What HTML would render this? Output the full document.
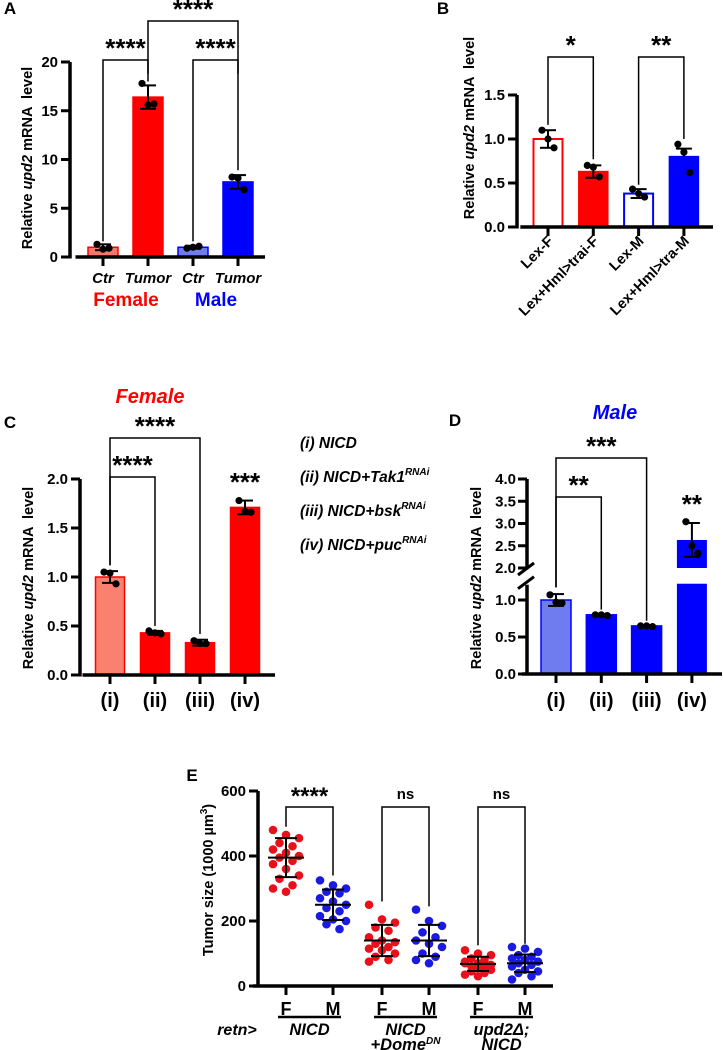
<!DOCTYPE html>
<html><head><meta charset="utf-8"><style>
html,body{margin:0;padding:0;background:#fff;}
svg{display:block;font-family:"Liberation Sans",Arial,sans-serif;font-weight:bold;}
</style></head><body>
<svg id="fig" width="723" height="1050" viewBox="0 0 723 1050" xmlns="http://www.w3.org/2000/svg"></svg>
<script>
// ---- Panel A data ----
const aCats = ["Ctr","Tumor","Ctr","Tumor"];
const aMeans = [1.0, 16.4, 1.0, 7.7];
const aErr = [0.3, 1.2, 0.15, 0.7];
const aPts = [[1.3,0.8,0.9],[17.8,15.6,15.7],[0.9,1.0,1.1],[8.2,8.1,6.9]];
const aTicks = [0,5,10,15,20];
// ---- Panel B data ----
const bCats = ["Lex-F","Lex+Hml>trai-F","Lex-M","Lex+Hml>tra-M"];
const bMeans = [1.0, 0.63, 0.38, 0.80];
const bErr = [0.1, 0.07, 0.05, 0.09];
const bPts = [[1.1,1.0,0.9],[0.7,0.68,0.57],[0.43,0.38,0.34],[0.94,0.85,0.62]];
const bTicks = [0,0.5,1.0,1.5];
// ---- Panel C data ----
const cCats = ["(i)","(ii)","(iii)","(iv)"];
const cMeans = [1.0, 0.43, 0.33, 1.71];
const cErr = [0.06, 0.02, 0.03, 0.07];
const cPts = [[1.05,1.04,0.93],[0.45,0.43,0.42],[0.35,0.32,0.32],[1.78,1.67,1.66]];
const cTicks = [0,0.5,1.0,1.5,2.0];
// ---- Panel D data ----
const dCats = ["(i)","(ii)","(iii)","(iv)"];
const dMeans = [1.0, 0.8, 0.65, 2.63];
const dErr = [0.08, 0.01, 0.01, 0.38];
const dPts = [[1.07,0.97,0.96],[0.8,0.8,0.79],[0.65,0.65,0.64],[3.04,2.5,2.33]];
const dTicksLow = [0,0.5,1.0];
const dTicksHigh = [2.0,2.5,3.0,3.5,4.0];
// ---- Panel E data ----
const eGroups = ["F","M","F","M","F","M"];
const eMeans = [395,250,140,140,68,70];
const eSD = [60,47,48,48,22,27];
const eVals = [
 [480,465,455,440,430,420,410,400,395,385,375,360,340,330,310,300,290],
 [325,310,300,290,285,270,260,250,240,230,215,205,200,190,175],
 [250,205,195,180,170,150,140,135,130,120,115,110,100,90,80,75],
 [235,200,185,165,150,140,130,120,100,90,80,70],
 [110,100,95,85,80,75,70,65,60,60,70,55,50,45,40,35,30],
 [120,115,105,95,90,85,80,75,70,65,60,50,45,40,30,20]
];
const eTicks = [0,200,400,600];

const NS="http://www.w3.org/2000/svg";
const svg=document.getElementById('fig');
function mk(tag,attrs,parent){const e=document.createElementNS(NS,tag);for(const k in attrs)e.setAttribute(k,attrs[k]);(parent||svg).appendChild(e);return e;}
function txt(s,x,y,size,anchor,fill,parent,extra){const t=mk('text',Object.assign({x:x,y:y,'font-size':size,'text-anchor':anchor||'middle',fill:fill||'#000'},extra||{}),parent);t.textContent=s;return t;}
function line(x1,y1,x2,y2,w,parent){return mk('line',{x1,y1,x2,y2,stroke:'#000','stroke-width':w||1.5},parent);}
function bracket(x1,x2,yTop,y1,y2,label,parent,size,labelDy){
  const p=mk('polyline',{points:`${x1},${y1} ${x1},${yTop} ${x2},${yTop} ${x2},${y2}`,fill:'none',stroke:'#000','stroke-width':1.5},parent);
  
  
  const t=txt(label,(x1+x2)/2,yTop-(labelDy||3),size||26,'middle','#000',parent);
  
  
}
function yTitle(x,y,parent){
  const t=mk('text',{transform:`translate(${x},${y}) rotate(-90)`,'font-size':14.5,'text-anchor':'middle'},parent);
  t.innerHTML='Relative <tspan font-style="italic">upd2</tspan> mRNA &#160;level';
  
  
}
function barPanel(g,o,cats,means,err,pts,styles,ticks,fmt){
  const ys=v=>o.y0-(v-o.vmin)*o.k;
  const xs=i=>o.x0+i*o.step;
  cats.forEach((c,i)=>{
    const st=styles[i];
    const r=mk('rect',{x:xs(i)-o.bw/2,y:ys(means[i]),width:o.bw,height:o.y0-ys(means[i]),fill:st.fill,stroke:st.stroke,'stroke-width':st.sw||1.5},g);
    
    
    const eb=mk('g',{},g);
    
    
    line(xs(i),ys(means[i]-(st.upOnly?0:err[i])),xs(i),ys(means[i]+err[i]),2,eb);
    line(xs(i)-8,ys(means[i]+err[i]),xs(i)+8,ys(means[i]+err[i]),2,eb);
    if(!st.upOnly)line(xs(i)-8,ys(means[i]-err[i]),xs(i)+8,ys(means[i]-err[i]),2,eb);
    pts[i].forEach((v,j)=>{
      const c2=mk('circle',{cx:xs(i)+(j-1)*6,cy:ys(v),r:3.6,fill:'#000'},g);
      
      
    });
    line(xs(i),o.y0,xs(i),o.y0+9,3,g);
  });
  const ax=line(o.x0-o.step/2-5,o.y0,o.xEnd,o.y0,3.5,g);
  
  
  const yax=line(o.ax,o.y0+1.5,o.ax,ys(ticks[ticks.length-1]),3.5,g);
  
  
  ticks.forEach(v=>{
    line(o.ax-9,ys(v),o.ax,ys(v),3,g);
    const t=txt(fmt(v),o.ax-12,ys(v)+5,15,'end','#000',g);
    
    
  });
  return {xs,ys};
}

// Panel A
const gA=mk('g',{});  
txt('A',10,14,17,'middle','#000',gA);
const RED='#ff0000',BLUE='#0000ff';
const A=barPanel(gA,{x0:103,step:45,bw:30,y0:257,k:9.75,vmin:0,xEnd:265,ax:70},aCats,aMeans,aErr,aPts,
 [{fill:'#f4796c',stroke:RED},{fill:RED,stroke:RED},{fill:'#6e7cf0',stroke:BLUE},{fill:BLUE,stroke:BLUE}],aTicks,v=>String(v));
yTitle(32,158,gA);
aCats.forEach((c,i)=>{const t=txt(c,A.xs(i),283,15,'middle','#000',gA,{'font-style':'italic'});});
txt('Female',126,306,19,'middle',RED,gA);
txt('Male',216,306,19,'middle',BLUE,gA);
bracket(A.xs(0),A.xs(1),60,A.ys(1.6),A.ys(18),'****',gA);
bracket(A.xs(2),A.xs(3),60,A.ys(1.6),A.ys(8.9),'****',gA);
bracket(A.xs(1),A.xs(3),21,A.ys(18.8),A.ys(18.8),'****',gA);

// Panel B
const gB=mk('g',{});  
txt('B',443,14,17,'middle','#000',gB);
const B=barPanel(gB,{x0:548,step:45.3,bw:29,y0:227,k:88,vmin:0,xEnd:713,ax:517},bCats,bMeans,bErr,bPts,
 [{fill:'#fff',stroke:RED,sw:2},{fill:RED,stroke:RED},{fill:'#fff',stroke:BLUE,sw:2},{fill:BLUE,stroke:BLUE,upOnly:true}],bTicks,v=>v.toFixed(1));
yTitle(474,128,gB);
bCats.forEach((c,i)=>{const t=txt(c,0,0,14.5,'end','#000',gB,{transform:`translate(${B.xs(i)+6},${242}) rotate(-45)`});});
bracket(B.xs(0),B.xs(1),57,B.ys(1.16),B.ys(0.77),'*',gB);
bracket(B.xs(2),B.xs(3),57,B.ys(0.48),B.ys(1.0),'**',gB);

// Panel C
const gC=mk('g',{});  
txt('C',10,428,17,'middle','#000',gC);
txt('Female',150,403,20,'middle',RED,gC,{'font-style':'italic'});
const C=barPanel(gC,{x0:110,step:45,bw:29,y0:675,k:98,vmin:0,xEnd:275,ax:80},cCats,cMeans,cErr,cPts,
 [{fill:'#fa8070',stroke:RED},{fill:RED,stroke:RED},{fill:RED,stroke:RED},{fill:RED,stroke:RED}],cTicks,v=>v.toFixed(1));
yTitle(33,578,gC);
cCats.forEach((c,i)=>{const t=txt(c,C.xs(i),707,20,'middle','#000',gC);});
bracket(C.xs(0),C.xs(1),477,C.ys(1.12),C.ys(0.5),'****',gC);
bracket(C.xs(0),C.xs(2),438,C.ys(1.12),C.ys(0.42),'****',gC);
txt('***',C.xs(3),491,26,'middle','#000',gC);
const leg=mk('g',{'font-style':'italic'},gC);  
const legItems=[['(i) NICD',''],['(ii) NICD+Tak1','RNAi'],['(iii) NICD+bsk','RNAi'],['(iv) NICD+puc','RNAi']];
legItems.forEach((it,i)=>{
  const t=mk('text',{x:300,y:448+i*34,'font-size':15.5},leg);
  t.innerHTML=it[0]+(it[1]?`<tspan font-size="10" dy="-7">${it[1]}</tspan>`:'');
  
  
});

// Panel D (broken axis)
const gD=mk('g',{});  
txt('D',455,426,17,'middle','#000',gD);
txt('Male',615,419,20,'middle',BLUE,gD,{'font-style':'italic'});
const dY0=674,dKlo=74,dBreakLo=1.22,dHiBase=568,dKhi=44.5;
const dys=v=>v<=dBreakLo+0.3?dY0-v*dKlo:dHiBase-(v-2)*dKhi;
const dxs=i=>556+i*45.3;
const dAx=527;
const dStyles=[{fill:'#6e7cf0',stroke:BLUE},{fill:BLUE,stroke:BLUE},{fill:BLUE,stroke:BLUE},{fill:BLUE,stroke:BLUE}];
dCats.forEach((c,i)=>{
  let r;
  if(dMeans[i]>dBreakLo){
    r=mk('rect',{x:dxs(i)-15,y:dys(dBreakLo),width:30,height:dY0-dys(dBreakLo),fill:BLUE},gD);
    const r2=mk('rect',{x:dxs(i)-15,y:dys(dMeans[i]),width:30,height:dHiBase-dys(dMeans[i]),fill:BLUE},gD);
    
    
  } else {
    r=mk('rect',{x:dxs(i)-15,y:dys(dMeans[i]),width:30,height:dY0-dys(dMeans[i]),fill:dStyles[i].fill,stroke:dStyles[i].stroke,'stroke-width':1.5},gD);
  }
  
  
  const eb=mk('g',{},gD);
  
  
  line(dxs(i),dys(dMeans[i]-dErr[i]),dxs(i),dys(dMeans[i]+dErr[i]),2,eb);
  line(dxs(i)-8,dys(dMeans[i]+dErr[i]),dxs(i)+8,dys(dMeans[i]+dErr[i]),2,eb);
  line(dxs(i)-8,dys(dMeans[i]-dErr[i]),dxs(i)+8,dys(dMeans[i]-dErr[i]),2,eb);
  dPts[i].forEach((v,j)=>{
    const p=mk('circle',{cx:dxs(i)+(j-1)*6,cy:dys(v),r:3.6,fill:'#000'},gD);
    
    
  });
  line(dxs(i),dY0,dxs(i),dY0+9,3,gD);
  const t=txt(c,dxs(i),707,20,'middle','#000',gD);
  
  
});
line(dAx-5,dY0,722,dY0,3.5,gD);
line(dAx,dY0+1.5,dAx,dys(dBreakLo)+1,3.5,gD);
line(dAx,dHiBase,dAx,dys(4),3.5,gD);
line(dAx-9,dys(dBreakLo)+5,dAx+7,dys(dBreakLo)-7,3,gD);
line(dAx-9,dHiBase+7,dAx+7,dHiBase-5,3,gD);
dTicksLow.concat(dTicksHigh).forEach(v=>{
  line(dAx-9,dys(v),dAx,dys(v),3,gD);
  const t=txt(v.toFixed(1),dAx-11,dys(v)+5,15,'end','#000',gD);
  
  
});
yTitle(481,578,gD);
bracket(dxs(0),dxs(1),497,dys(1.17),dys(0.87),'**',gD);
bracket(dxs(0),dxs(2),458,dys(1.17),dys(0.72),'***',gD);
txt('**',dxs(3),513,26,'middle','#000',gD);

// Panel E
const gE=mk('g',{});  
txt('E',192,781,17,'middle','#000',gE);
const eY0=986,eK=0.325,eAx=258;
const eys=v=>eY0-v*eK;
const exs=i=>286+Math.floor(i/2)*96+(i%2)*47;
const eCols=['#e8101a','#1a1ae0'];
eVals.forEach((vals,i)=>{
  vals.forEach((v,j)=>{
    const off=((j*7)%5-2)*6.5;
    const p=mk('circle',{cx:exs(i)+off,cy:eys(v),r:4.3,fill:eCols[i%2]},gE);
    
    
  });
  const eb=mk('g',{},gE);
  
  
  line(exs(i)-18,eys(eMeans[i]),exs(i)+18,eys(eMeans[i]),2,eb);
  line(exs(i),eys(eMeans[i]-eSD[i]),exs(i),eys(eMeans[i]+eSD[i]),2,eb);
  line(exs(i)-11,eys(eMeans[i]+eSD[i]),exs(i)+11,eys(eMeans[i]+eSD[i]),2,eb);
  line(exs(i)-11,eys(eMeans[i]-eSD[i]),exs(i)+11,eys(eMeans[i]-eSD[i]),2,eb);
  line(exs(i),eY0,exs(i),eY0+9,3,gE);
  const t=txt(eGroups[i],exs(i),1015,18,'middle','#000',gE);
  
  
});
line(eAx-5,eY0,553,eY0,3.5,gE);
line(eAx,eY0+1.5,eAx,eys(600),3.5,gE);
eTicks.forEach(v=>{
  line(eAx-9,eys(v),eAx,eys(v),3,gE);
  const t=txt(String(v),eAx-12,eys(v)+5,15,'end','#000',gE);
  
  
});
const et=mk('text',{transform:'translate(213,880) rotate(-90)','font-size':14.5,'text-anchor':'middle'},gE);
et.innerHTML='Tumor size (1000 µm<tspan font-size="10" dy="-6">3</tspan><tspan dy="6">)</tspan>';


bracket(exs(0),exs(1),807,eys(490),eys(340),'****',gE,24,3);
bracket(exs(2),exs(3),807,eys(260),eys(245),'ns',gE,15,8);
bracket(exs(4),exs(5),807,eys(125),eys(130),'ns',gE,15,8);
[0,1,2].forEach(k=>{line(exs(2*k)-8,1017,exs(2*k+1)+8,1017,2.5,gE);});
const glab=[['NICD'],['NICD','+Dome'],['upd2Δ;','NICD']];
txt('retn>',237,1035,16,'middle','#000',gE,{'font-style':'italic'});
glab.forEach((l,k)=>{
  const cx=(exs(2*k)+exs(2*k+1))/2;
  const t1=txt(l[0],cx,1035,16.5,'middle','#000',gE,{'font-style':'italic'});
  
  
  if(l[1]){
    const t2=mk('text',{x:cx,y:1050,'font-size':16.5,'text-anchor':'middle','font-style':'italic'},gE);
    t2.innerHTML=l[1]+(k===1?'<tspan font-size="10" dy="-6">DN</tspan>':'');
    
    
  }
});
</script>
</body></html>
